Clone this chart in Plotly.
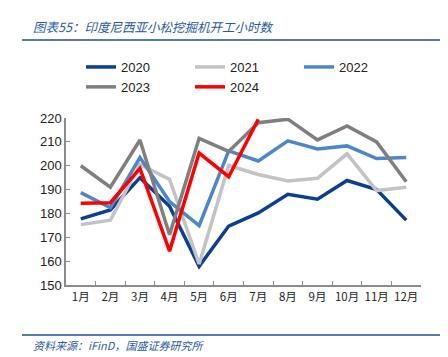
import plotly.graph_objects as go

months = ["1月", "2月", "3月", "4月", "5月", "6月", "7月", "8月", "9月", "10月", "11月", "12月"]
y2020 = [177.7, 181.5, 195.0, 183.0, 157.8, 174.7, 180.2, 188.0, 186.0, 193.8, 190.0, 177.2]
y2021 = [175.3, 177.2, 200.5, 194.3, 158.8, 200.1, 196.3, 193.6, 194.7, 205.0, 189.6, 191.0]
y2022 = [188.7, 182.4, 203.4, 185.0, 174.9, 206.2, 202.0, 210.4, 207.0, 208.3, 203.0, 203.4]
y2023 = [200.0, 191.0, 210.8, 171.1, 211.5, 206.0, 218.0, 219.5, 210.8, 216.7, 210.0, 193.3]
y2024 = [184.3, 184.5, 198.9, 164.2, 205.3, 195.4, 219.5]

series = [
    ("2020", y2020, "#0b3f93"),
    ("2021", y2021, "#c3c3c3"),
    ("2022", y2022, "#4d87c9"),
    ("2023", y2023, "#7f7f7f"),
    ("2024", y2024, "#ff0000"),
]

fig = go.Figure()
for name, ys, color in series:
    fig.add_trace(go.Scatter(
        x=months[:len(ys)], y=ys, name=name, mode="lines",
        line=dict(color=color, width=3.5),
    ))

L, R, T, B = 58, 35, 110, 80
W, H = 448, 357
pw, ph = W - L - R, H - T - B

def px(x):
    return (x - L) / pw

def py(y):
    return (H - B - y) / ph

font_cjk = "Noto Sans CJK SC, Noto Sans, sans-serif"

fig.update_layout(
    width=W, height=H,
    margin=dict(l=L, r=R, t=T, b=B),
    paper_bgcolor="white", plot_bgcolor="white",
    font=dict(family="Liberation Sans, Arial, " + font_cjk, size=13, color="#222222"),
    showlegend=True,
    legend=dict(
        orientation="h", x=px(73), y=py(44), xanchor="left", yanchor="top",
        entrywidth=64, entrywidthmode="pixels",
        font=dict(size=13, color="#222222"),
        tracegroupgap=0, itemwidth=30,
        bgcolor="rgba(0,0,0,0)",
    ),
    xaxis=dict(
        type="category", categoryorder="array", categoryarray=months,
        range=[-0.5, 11.5],
        showline=True, linecolor="#8c8c8c", linewidth=1.5,
        ticks="inside", ticklen=4, tickcolor="#8c8c8c", tickson="boundaries",
        showgrid=False, zeroline=False, tickangle=0,
        tickfont=dict(size=11.5, family=font_cjk, color="#222222"),
    ),
    yaxis=dict(
        range=[150, 220], dtick=10,
        showline=True, linecolor="#8c8c8c", linewidth=1.5,
        ticks="inside", ticklen=4, tickcolor="#8c8c8c",
        showgrid=False, zeroline=False,
        tickfont=dict(size=13, color="#222222"),
    ),
    shapes=[
        dict(type="line", xref="paper", yref="paper", x0=px(14), x1=px(435), y0=py(32), y1=py(32),
             line=dict(color="#1f4e96", width=1.5)),
        dict(type="line", xref="paper", yref="paper", x0=px(443), x1=px(448), y0=py(32), y1=py(32),
             line=dict(color="#1f4e96", width=1.5)),
        dict(type="line", xref="paper", yref="paper", x0=px(14), x1=px(435), y0=py(327), y1=py(327),
             line=dict(color="#1f4e96", width=1.5)),
        dict(type="line", xref="paper", yref="paper", x0=px(443), x1=px(448), y0=py(327), y1=py(327),
             line=dict(color="#1f4e96", width=1.5)),
    ],
    annotations=[
        dict(text="<i>图表55：印度尼西亚小松挖掘机开工小时数</i>", xref="paper", yref="paper",
             x=px(23), y=py(18), xanchor="left", yanchor="middle", showarrow=False,
             font=dict(size=12.5, color="#2b5aa3", family=font_cjk)),
        dict(text="<i>资料来源：iFinD，国盛证券研究所</i>", xref="paper", yref="paper",
             x=px(23), y=py(337), xanchor="left", yanchor="middle", showarrow=False,
             font=dict(size=11, color="#2b5aa3", family=font_cjk)),
    ],
)

fig.write_html("out.html")
